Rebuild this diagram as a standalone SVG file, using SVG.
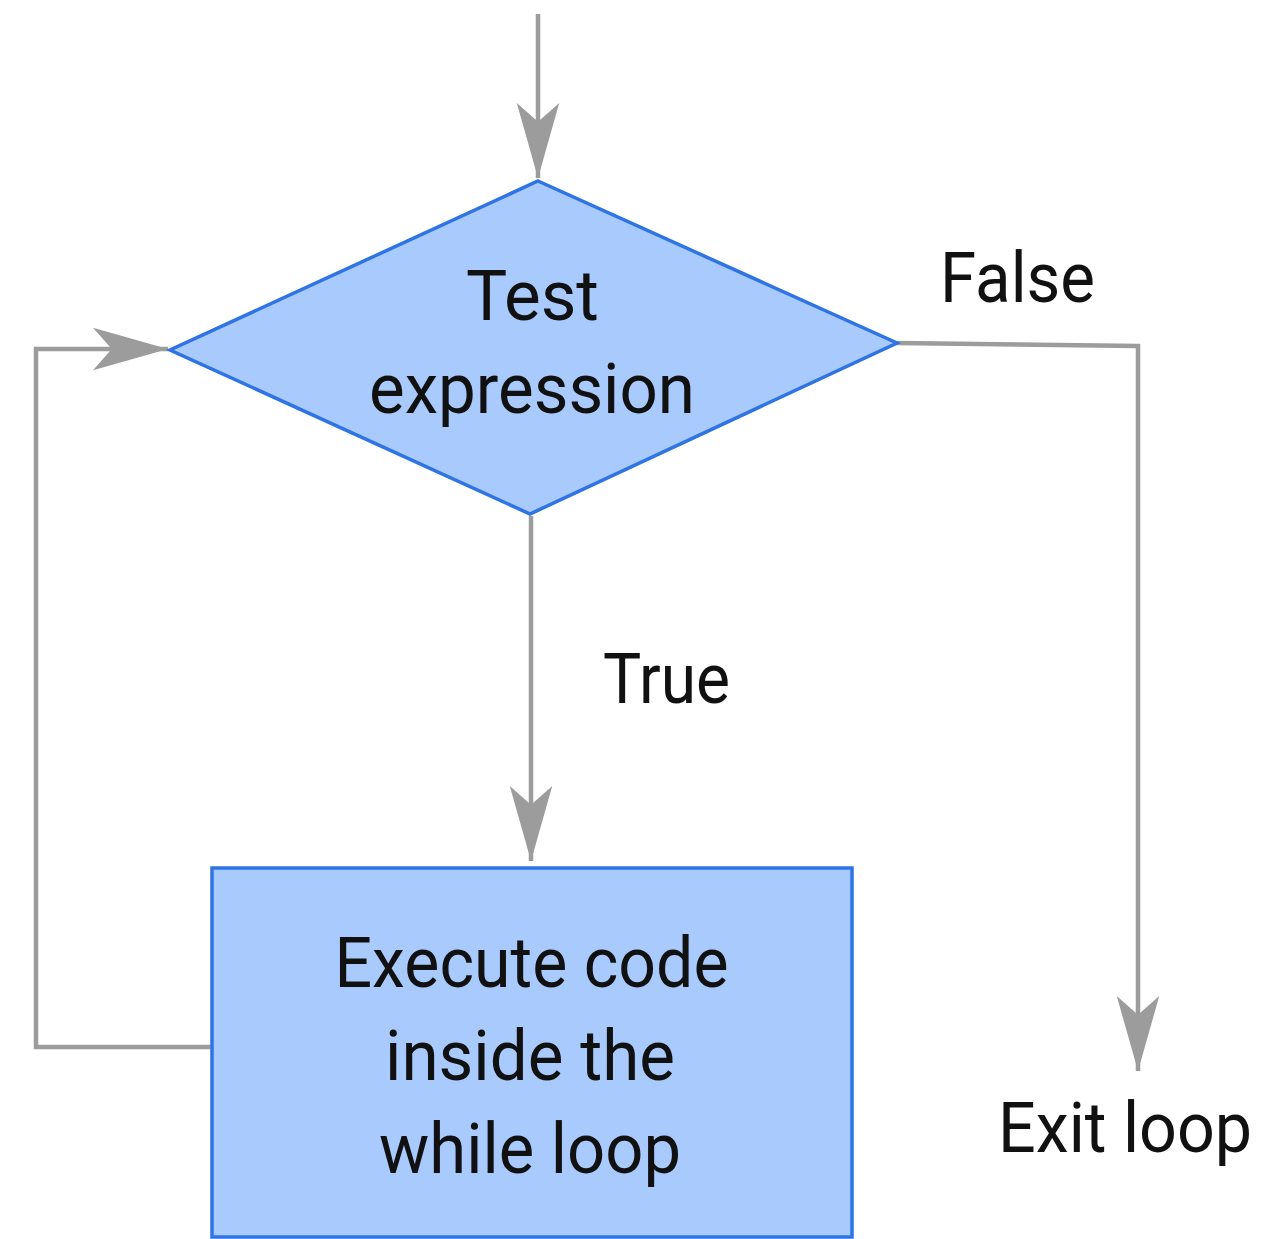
<svg xmlns="http://www.w3.org/2000/svg" width="1266" height="1239" viewBox="0 0 1266 1239">
  <style>
    .shape { fill: #a9cafd; stroke: #2f74e4; stroke-width: 3.5; }
    .conn { fill: none; stroke: #9c9c9c; stroke-width: 4.5; stroke-linejoin: miter; }
    .lbl { font-family: Roboto, "Liberation Sans", sans-serif; font-size: 70px; fill: #111111; }
  </style>
  <defs>
    <marker id="arrow" markerUnits="userSpaceOnUse" markerWidth="80" markerHeight="50" viewBox="-62 -20 64 40" refX="0" refY="0" orient="auto">
      <path d="M0,0 L-60,-17 L-45,0 L-60,17 Z" fill="#9c9c9c"/>
    </marker>
  </defs>
  <rect width="1266" height="1239" fill="#ffffff"/>
  <g id="connectors">
    <path class="conn" d="M538,14 L538,178" marker-end="url(#arrow)"/>
    <path class="conn" d="M531,516 L531,861" marker-end="url(#arrow)"/>
    <path class="conn" d="M897,343 L1138,346 L1138,1071" marker-end="url(#arrow)"/>
    <path class="conn" d="M211,1047 L36,1047 L36,349 L168,349" marker-end="url(#arrow)"/>
  </g>
  <g id="node-test">
    <polygon class="shape" points="538,181 897,343 530,514 170,350"/>
    <text class="lbl" x="532.5" y="320" text-anchor="middle" textLength="133" lengthAdjust="spacingAndGlyphs">Test</text>
    <text class="lbl" x="532" y="413" text-anchor="middle" textLength="326" lengthAdjust="spacingAndGlyphs">expression</text>
  </g>
  <g id="node-execute">
    <rect class="shape" x="212" y="868" width="640" height="369"/>
    <text class="lbl" x="531.5" y="987" text-anchor="middle" textLength="394" lengthAdjust="spacingAndGlyphs">Execute code</text>
    <text class="lbl" x="530" y="1080" text-anchor="middle" textLength="290" lengthAdjust="spacingAndGlyphs">inside the</text>
    <text class="lbl" x="530" y="1173" text-anchor="middle" textLength="302" lengthAdjust="spacingAndGlyphs">while loop</text>
  </g>
  <g id="labels">
    <text class="lbl" x="603" y="703" textLength="127" lengthAdjust="spacingAndGlyphs">True</text>
    <text class="lbl" x="940" y="302" textLength="155" lengthAdjust="spacingAndGlyphs">False</text>
    <text class="lbl" x="998" y="1152" textLength="254" lengthAdjust="spacingAndGlyphs">Exit loop</text>
  </g>
</svg>
